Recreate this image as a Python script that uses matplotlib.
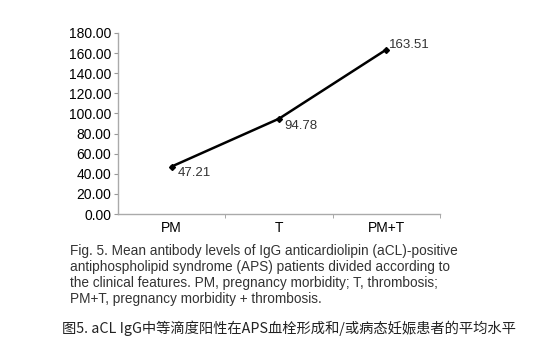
import matplotlib.pyplot as plt

categories = ["PM", "T", "PM+T"]
values = [47.21, 94.78, 163.51]
value_labels = ["47.21", "94.78", "163.51"]
yticks = [0, 20, 40, 60, 80, 100, 120, 140, 160, 180]

caption_en = ("Fig. 5. Mean antibody levels of IgG anticardiolipin (aCL)-positive\n"
              "antiphospholipid syndrome (APS) patients divided according to\n"
              "the clinical features. PM, pregnancy morbidity; T, thrombosis;\n"
              "PM+T, pregnancy morbidity + thrombosis.")
caption_cn = "图5. aCL IgG中等滴度阳性在APS血栓形成和/或病态妊娠患者的平均水平"

plt.rcParams["font.family"] = ["Liberation Sans", "DejaVu Sans"]

fig = plt.figure(figsize=(5.41, 3.55), dpi=100)
W, H = 541, 355
ax = fig.add_axes([118 / W, 1 - 214 / H, (440 - 118) / W, (214 - 33) / H])

x = range(len(categories))
ax.plot(x, values, color="black", lw=1.8, marker="D", ms=3)
offsets = [(4, -5), (4, -5), (2, 3)]
for xi, v, lab, off in zip(x, values, value_labels, offsets):
    ax.annotate(lab, (xi, v), xytext=off, textcoords="offset points",
                fontsize=9.5, color="#333333", va="center")

ax.set_xlim(-0.5, 2.5)
ax.set_ylim(0, 180)
ax.set_yticks(yticks)
ax.set_yticklabels([f"{t:.2f}" for t in yticks], fontsize=10)
ax.set_xticks(list(x))
ax.set_xticklabels(categories, fontsize=10)
ax.set_xticks([0.5, 1.5, 2.5], minor=True)
ax.tick_params(axis="x", which="major", length=0, pad=5)
ax.tick_params(axis="x", which="minor", length=3, color="#999999")
ax.tick_params(axis="y", length=3, color="#999999", pad=2)
for s in ["top", "right"]:
    ax.spines[s].set_visible(False)
for s in ["left", "bottom"]:
    ax.spines[s].set_color("#aaaaaa")
    ax.spines[s].set_linewidth(1.0)

fig.text(70 / W, 1 - 244 / H, caption_en, fontsize=9.8, color="#333333",
         va="top", ha="left", linespacing=1.18)
fig.text(62 / W, 1 - 328 / H, caption_cn, fontsize=10.3, color="#222222",
         va="center", ha="left", family=["Noto Sans CJK SC", "DejaVu Sans"])

fig.savefig("out.png", dpi=100)
